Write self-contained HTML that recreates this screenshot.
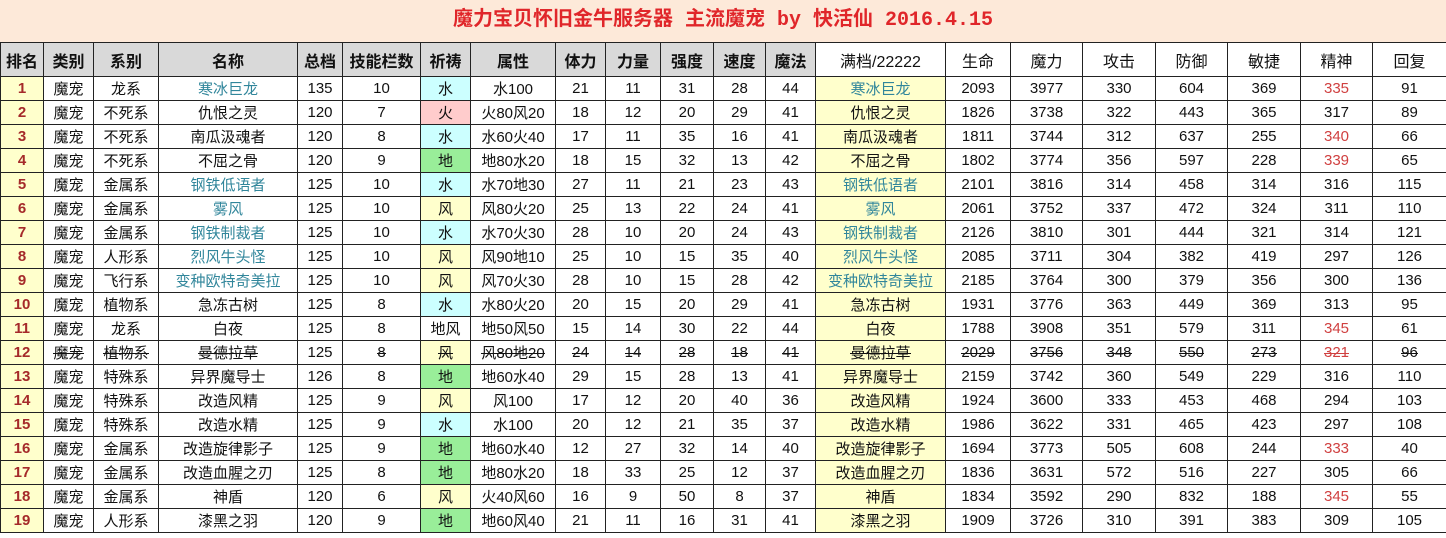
<!DOCTYPE html>
<html><head><meta charset="utf-8"><style>
body{margin:0;width:1446px;height:538px;overflow:hidden;background:#fff;font-family:"Liberation Sans","Noto Sans CJK SC",sans-serif;}
.title{position:absolute;left:0;top:0;width:1446px;height:42px;background:#fde9d9;color:#e0262a;font-weight:bold;font-size:20px;line-height:42px;text-align:center;font-family:"Liberation Mono","Noto Sans CJK SC",monospace;}
table{position:absolute;left:0;top:42px;border-collapse:collapse;table-layout:fixed;width:1446px;}
td{border:1px solid #222;height:23px;padding:0;text-align:center;font-size:15px;white-space:nowrap;overflow:hidden;color:#111;}
tr.h td{height:33px;font-size:16px;}
tr.h td.g{background:#d9d9d9;font-weight:bold;}
td.r{background:#ffffcc;color:#a52a2a;font-weight:bold;}
td.y{background:#ffffcc}
td.w{background:#ccffff}
td.f{background:#ffcccc}
td.e{background:#99ee99}
.b{color:#31869b}
.red{color:#d04040}
i{font-style:normal;position:relative;display:inline-block}
i::after{content:"";position:absolute;left:0;right:0;top:54%;border-top:1px solid currentColor}
</style></head><body>
<div class="title">魔力宝贝怀旧金牛服务器 主流魔宠 by 快活仙 2016.4.15</div>
<table>
<colgroup><col style="width:43px"><col style="width:50px"><col style="width:65px"><col style="width:139px"><col style="width:45px"><col style="width:78px"><col style="width:50px"><col style="width:85px"><col style="width:50px"><col style="width:55px"><col style="width:53px"><col style="width:52px"><col style="width:50px"><col style="width:130px"><col style="width:65px"><col style="width:72px"><col style="width:73px"><col style="width:72px"><col style="width:73px"><col style="width:72px"><col style="width:74px"></colgroup>
<tr class="h"><td class="g">排名</td><td class="g">类别</td><td class="g">系别</td><td class="g">名称</td><td class="g">总档</td><td class="g">技能栏数</td><td class="g">祈祷</td><td class="g">属性</td><td class="g">体力</td><td class="g">力量</td><td class="g">强度</td><td class="g">速度</td><td class="g">魔法</td><td>满档/22222</td><td>生命</td><td>魔力</td><td>攻击</td><td>防御</td><td>敏捷</td><td>精神</td><td>回复</td></tr>
<tr><td class="r">1</td><td>魔宠</td><td>龙系</td><td class="b">寒冰巨龙</td><td>135</td><td>10</td><td class="w">水</td><td>水100</td><td>21</td><td>11</td><td>31</td><td>28</td><td>44</td><td class="y b">寒冰巨龙</td><td>2093</td><td>3977</td><td>330</td><td>604</td><td>369</td><td class="red">335</td><td>91</td></tr>
<tr><td class="r">2</td><td>魔宠</td><td>不死系</td><td>仇恨之灵</td><td>120</td><td>7</td><td class="f">火</td><td>火80风20</td><td>18</td><td>12</td><td>20</td><td>29</td><td>41</td><td class="y">仇恨之灵</td><td>1826</td><td>3738</td><td>322</td><td>443</td><td>365</td><td>317</td><td>89</td></tr>
<tr><td class="r">3</td><td>魔宠</td><td>不死系</td><td>南瓜汲魂者</td><td>120</td><td>8</td><td class="w">水</td><td>水60火40</td><td>17</td><td>11</td><td>35</td><td>16</td><td>41</td><td class="y">南瓜汲魂者</td><td>1811</td><td>3744</td><td>312</td><td>637</td><td>255</td><td class="red">340</td><td>66</td></tr>
<tr><td class="r">4</td><td>魔宠</td><td>不死系</td><td>不屈之骨</td><td>120</td><td>9</td><td class="e">地</td><td>地80水20</td><td>18</td><td>15</td><td>32</td><td>13</td><td>42</td><td class="y">不屈之骨</td><td>1802</td><td>3774</td><td>356</td><td>597</td><td>228</td><td class="red">339</td><td>65</td></tr>
<tr><td class="r">5</td><td>魔宠</td><td>金属系</td><td class="b">钢铁低语者</td><td>125</td><td>10</td><td class="w">水</td><td>水70地30</td><td>27</td><td>11</td><td>21</td><td>23</td><td>43</td><td class="y b">钢铁低语者</td><td>2101</td><td>3816</td><td>314</td><td>458</td><td>314</td><td>316</td><td>115</td></tr>
<tr><td class="r">6</td><td>魔宠</td><td>金属系</td><td class="b">雾风</td><td>125</td><td>10</td><td class="y">风</td><td>风80火20</td><td>25</td><td>13</td><td>22</td><td>24</td><td>41</td><td class="y b">雾风</td><td>2061</td><td>3752</td><td>337</td><td>472</td><td>324</td><td>311</td><td>110</td></tr>
<tr><td class="r">7</td><td>魔宠</td><td>金属系</td><td class="b">钢铁制裁者</td><td>125</td><td>10</td><td class="w">水</td><td>水70火30</td><td>28</td><td>10</td><td>20</td><td>24</td><td>43</td><td class="y b">钢铁制裁者</td><td>2126</td><td>3810</td><td>301</td><td>444</td><td>321</td><td>314</td><td>121</td></tr>
<tr><td class="r">8</td><td>魔宠</td><td>人形系</td><td class="b">烈风牛头怪</td><td>125</td><td>10</td><td class="y">风</td><td>风90地10</td><td>25</td><td>10</td><td>15</td><td>35</td><td>40</td><td class="y b">烈风牛头怪</td><td>2085</td><td>3711</td><td>304</td><td>382</td><td>419</td><td>297</td><td>126</td></tr>
<tr><td class="r">9</td><td>魔宠</td><td>飞行系</td><td class="b">变种欧特奇美拉</td><td>125</td><td>10</td><td class="y">风</td><td>风70火30</td><td>28</td><td>10</td><td>15</td><td>28</td><td>42</td><td class="y b">变种欧特奇美拉</td><td>2185</td><td>3764</td><td>300</td><td>379</td><td>356</td><td>300</td><td>136</td></tr>
<tr><td class="r">10</td><td>魔宠</td><td>植物系</td><td>急冻古树</td><td>125</td><td>8</td><td class="w">水</td><td>水80火20</td><td>20</td><td>15</td><td>20</td><td>29</td><td>41</td><td class="y">急冻古树</td><td>1931</td><td>3776</td><td>363</td><td>449</td><td>369</td><td>313</td><td>95</td></tr>
<tr><td class="r">11</td><td>魔宠</td><td>龙系</td><td>白夜</td><td>125</td><td>8</td><td>地风</td><td>地50风50</td><td>15</td><td>14</td><td>30</td><td>22</td><td>44</td><td class="y">白夜</td><td>1788</td><td>3908</td><td>351</td><td>579</td><td>311</td><td class="red">345</td><td>61</td></tr>
<tr><td class="r">12</td><td><i>魔宠</i></td><td><i>植物系</i></td><td><i>曼德拉草</i></td><td>125</td><td><i>8</i></td><td class="y"><i>风</i></td><td><i>风80地20</i></td><td><i>24</i></td><td><i>14</i></td><td><i>28</i></td><td><i>18</i></td><td><i>41</i></td><td class="y"><i>曼德拉草</i></td><td><i>2029</i></td><td><i>3756</i></td><td><i>348</i></td><td><i>550</i></td><td><i>273</i></td><td class="red"><i>321</i></td><td><i>96</i></td></tr>
<tr><td class="r">13</td><td>魔宠</td><td>特殊系</td><td>异界魔导士</td><td>126</td><td>8</td><td class="e">地</td><td>地60水40</td><td>29</td><td>15</td><td>28</td><td>13</td><td>41</td><td class="y">异界魔导士</td><td>2159</td><td>3742</td><td>360</td><td>549</td><td>229</td><td>316</td><td>110</td></tr>
<tr><td class="r">14</td><td>魔宠</td><td>特殊系</td><td>改造风精</td><td>125</td><td>9</td><td class="y">风</td><td>风100</td><td>17</td><td>12</td><td>20</td><td>40</td><td>36</td><td class="y">改造风精</td><td>1924</td><td>3600</td><td>333</td><td>453</td><td>468</td><td>294</td><td>103</td></tr>
<tr><td class="r">15</td><td>魔宠</td><td>特殊系</td><td>改造水精</td><td>125</td><td>9</td><td class="w">水</td><td>水100</td><td>20</td><td>12</td><td>21</td><td>35</td><td>37</td><td class="y">改造水精</td><td>1986</td><td>3622</td><td>331</td><td>465</td><td>423</td><td>297</td><td>108</td></tr>
<tr><td class="r">16</td><td>魔宠</td><td>金属系</td><td>改造旋律影子</td><td>125</td><td>9</td><td class="e">地</td><td>地60水40</td><td>12</td><td>27</td><td>32</td><td>14</td><td>40</td><td class="y">改造旋律影子</td><td>1694</td><td>3773</td><td>505</td><td>608</td><td>244</td><td class="red">333</td><td>40</td></tr>
<tr><td class="r">17</td><td>魔宠</td><td>金属系</td><td>改造血腥之刃</td><td>125</td><td>8</td><td class="e">地</td><td>地80水20</td><td>18</td><td>33</td><td>25</td><td>12</td><td>37</td><td class="y">改造血腥之刃</td><td>1836</td><td>3631</td><td>572</td><td>516</td><td>227</td><td>305</td><td>66</td></tr>
<tr><td class="r">18</td><td>魔宠</td><td>金属系</td><td>神盾</td><td>120</td><td>6</td><td class="y">风</td><td>火40风60</td><td>16</td><td>9</td><td>50</td><td>8</td><td>37</td><td class="y">神盾</td><td>1834</td><td>3592</td><td>290</td><td>832</td><td>188</td><td class="red">345</td><td>55</td></tr>
<tr><td class="r">19</td><td>魔宠</td><td>人形系</td><td>漆黑之羽</td><td>120</td><td>9</td><td class="e">地</td><td>地60风40</td><td>21</td><td>11</td><td>16</td><td>31</td><td>41</td><td class="y">漆黑之羽</td><td>1909</td><td>3726</td><td>310</td><td>391</td><td>383</td><td>309</td><td>105</td></tr>
</table>
</body></html>
